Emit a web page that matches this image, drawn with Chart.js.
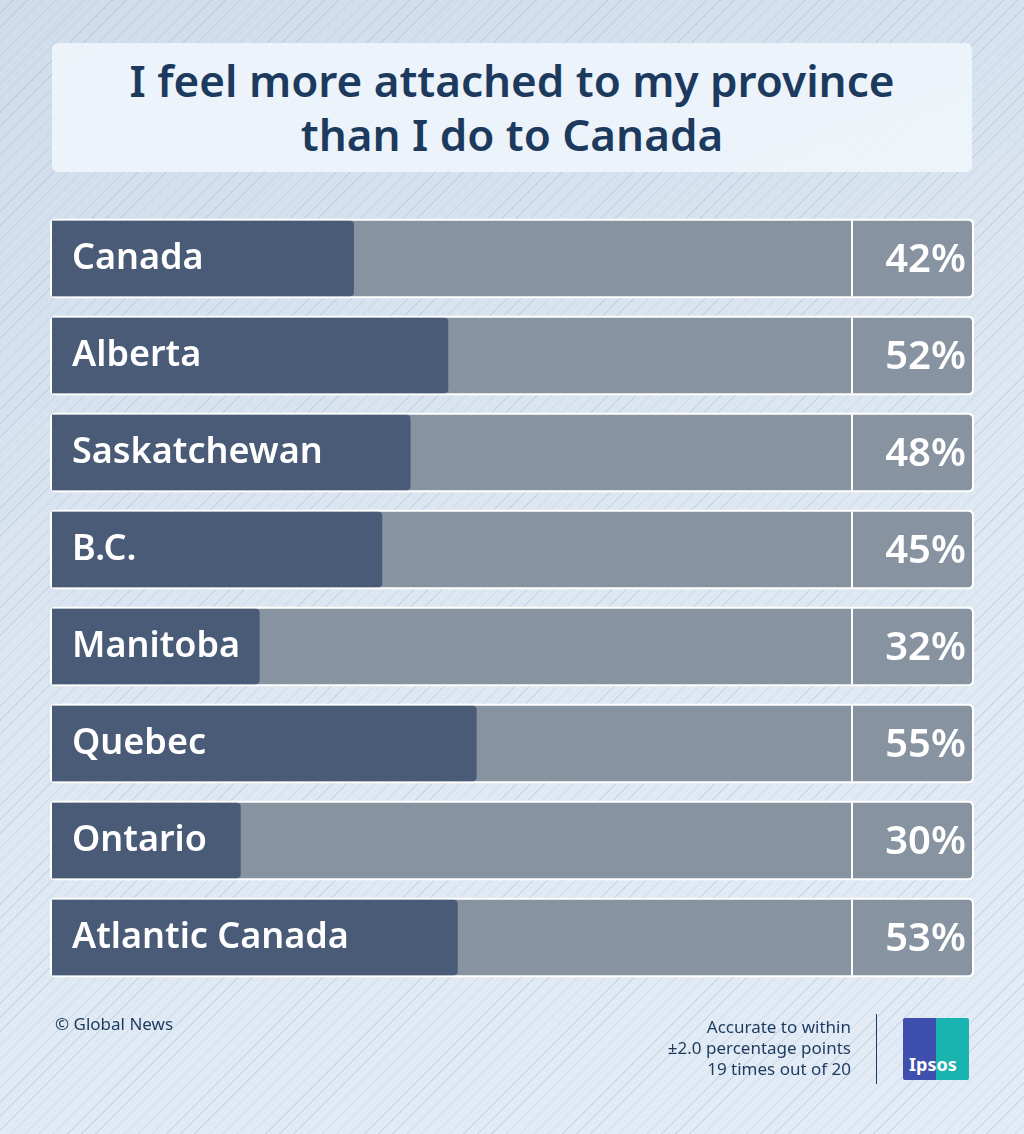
<!DOCTYPE html>
<html><head><meta charset="utf-8">
<script src="https://cdn.jsdelivr.net/npm/chart.js@4/dist/chart.umd.min.js"></script>
<style>
html,body{margin:0;padding:0;}
body{width:1024px;height:1134px;position:relative;overflow:hidden;font-family:"Noto Sans",sans-serif;
background:repeating-linear-gradient(135deg,rgba(255,255,255,0) 0 9px,rgba(120,140,170,0.18) 9px 10px),linear-gradient(160deg,#cfdcec 0%,#dde7f2 50%,#e3ecf6 100%);}
#title{position:absolute;left:52px;top:43px;width:920px;height:129px;background:rgba(240,245,251,0.9);border-radius:6px;
color:#1c3a5e;font-size:44px;font-weight:600;text-align:center;line-height:54px;padding-top:10px;box-sizing:border-box;}
#c{position:absolute;left:0;top:0;}
#copy{position:absolute;left:55px;top:1012px;font-size:17px;color:#1c3a5e;}
#acc{position:absolute;right:173px;top:1016px;font-size:17px;color:#1c3a5e;text-align:right;line-height:21px;}
#vl{position:absolute;left:876px;top:1014px;width:1px;height:70px;background:#1c3a5e;}
#logo{position:absolute;left:903px;top:1018px;width:66px;height:62px;background:linear-gradient(90deg,#3e4fae 0 50%,#19b3b0 50%);border-radius:2px;}
#logo span{position:absolute;left:6px;bottom:4px;color:#fff;font-weight:700;font-size:18px;}
</style></head><body>
<div id="title">I feel more attached to my province<br>than I do to Canada</div>
<canvas id="c" width="1024" height="1134"></canvas>
<div id="copy">© Global News</div>
<div id="acc">Accurate to within<br>±2.0 percentage points<br>19 times out of 20</div>
<div id="vl"></div>
<div id="logo"><span>Ipsos</span></div>
<script>
const categories=["Canada","Alberta","Saskatchewan","B.C.","Manitoba","Quebec","Ontario","Atlantic Canada"];
const values=[42,52,48,45,32,55,30,53];
const axisMin=10, axisMax=107.5;
const track=categories.map(()=>axisMax);

const overlay={id:'overlay',
 beforeDatasetsDraw(chart){
  const m=chart.getDatasetMeta(1),ctx=chart.ctx,a=chart.chartArea;
  ctx.save();
  m.data.forEach(b=>{const h=b.height;ctx.fillStyle='#fff';
   ctx.beginPath();ctx.roundRect(a.left-2,b.y-h/2-2,a.right-a.left+4,h+4,5);ctx.fill();});
  ctx.restore();
 },
 afterDatasetsDraw(chart){
  const m=chart.getDatasetMeta(1),ctx=chart.ctx,a=chart.chartArea;
  ctx.save();
  m.data.forEach((b,i)=>{const h=b.height;
   ctx.fillStyle='#fff';ctx.fillRect(a.right-121,b.y-h/2,2,h);
   ctx.fillStyle='#fff';ctx.textBaseline='middle';
   ctx.font='600 36px "Noto Sans"';ctx.textAlign='left';
   ctx.fillText(categories[i],a.left+20,b.y);
   ctx.font='600 40px "Noto Sans"';ctx.textAlign='right';
   ctx.fillText(values[i]+'%',a.right-6,b.y+2);
  });
  ctx.restore();
 }};

new Chart(document.getElementById('c'),{
 type:'bar',
 data:{labels:categories,datasets:[
  {data:track,backgroundColor:'#8793a0',grouped:false,order:2,borderRadius:4,borderSkipped:false},
  {data:values,backgroundColor:'#4a5b78',grouped:false,order:1,borderRadius:4,borderSkipped:false}
 ]},
 options:{indexAxis:'y',responsive:false,animation:false,
  layout:{padding:{left:52,right:52,top:210,bottom:148}},
  categoryPercentage:1,barPercentage:0.78,
  scales:{x:{display:false,min:axisMin,max:axisMax},y:{display:false}},
  plugins:{legend:{display:false},tooltip:{enabled:false}}},
 plugins:[overlay]});
</script></body></html>
